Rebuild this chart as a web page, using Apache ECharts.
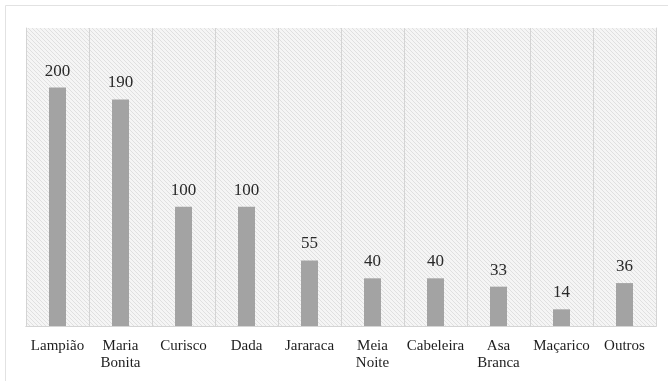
<!DOCTYPE html>
<html>
<head>
<meta charset="utf-8">
<script src="https://cdn.jsdelivr.net/npm/echarts@6/dist/echarts.min.js"></script>
<style>
  html, body { margin: 0; padding: 0; background: #fff; }
  #chart { width: 668px; height: 381px; }
</style>
</head>
<body>
<div id="chart"></div>
<script>
// dados
var categorias = ['Lampião', 'Maria\nBonita', 'Curisco', 'Dada', 'Jararaca', 'Meia\nNoite', 'Cabeleira', 'Asa\nBranca', 'Maçarico', 'Outros'];
var valores = [200, 190, 100, 100, 55, 40, 40, 33, 14, 36];

// fundo hachurado da área do gráfico
function hachura() {
  var c = document.createElement('canvas');
  c.width = 4; c.height = 4;
  var ctx = c.getContext('2d');
  ctx.fillStyle = '#f5f5f5';
  ctx.fillRect(0, 0, 4, 4);
  ctx.strokeStyle = '#e0e0e0';
  ctx.lineWidth = 1;
  ctx.beginPath();
  ctx.moveTo(0, 0); ctx.lineTo(4, 4);
  ctx.moveTo(-2, 2); ctx.lineTo(2, 6);
  ctx.moveTo(2, -2); ctx.lineTo(6, 2);
  ctx.stroke();
  return c;
}

var myChart = echarts.init(document.getElementById('chart'));
var fonte = '"Liberation Serif", "DejaVu Serif", serif';
var corGrade = '#d4d4d4';

myChart.setOption({
  backgroundColor: '#fff',
  animation: false,
  graphic: [{
    type: 'rect',
    shape: { x: 5.5, y: 5.5, width: 700, height: 400 },
    style: { fill: 'none', stroke: '#e2e2e2', lineWidth: 1 },
    z: -1
  }],
  grid: { left: 26, right: 12, top: 28, bottom: 55 },
  xAxis: [{
    type: 'category',
    data: categorias,
    axisLine: { show: true, lineStyle: { color: corGrade } },
    axisTick: { show: false },
    axisLabel: {
      color: '#1e1e1e',
      fontFamily: fonte,
      fontSize: 15,
      lineHeight: 17,
      margin: 12,
      interval: 0
    },
    splitLine: { show: true, interval: 0, lineStyle: { color: corGrade, width: 1 } },
    splitArea: {
      show: true,
      interval: 0,
      areaStyle: { color: [{ image: hachura(), repeat: 'repeat' }] }
    }
  }, {
    // moldura superior
    type: 'category',
    position: 'top',
    data: categorias,
    axisLine: { show: true, lineStyle: { color: corGrade } },
    axisTick: { show: false },
    axisLabel: { show: false },
    splitLine: { show: false }
  }],
  yAxis: [{
    type: 'value',
    min: 0,
    max: 250,
    interval: 50,
    axisLabel: { show: false },
    axisLine: { show: true, lineStyle: { color: corGrade } },
    axisTick: { show: false },
    splitLine: { show: true, lineStyle: { color: corGrade, width: 1 } }
  }, {
    // moldura direita
    type: 'value',
    position: 'right',
    min: 0,
    max: 250,
    interval: 50,
    axisLabel: { show: false },
    axisLine: { show: true, lineStyle: { color: corGrade } },
    axisTick: { show: false },
    splitLine: { show: false }
  }],
  series: [{
    type: 'bar',
    data: valores,
    barWidth: 17,
    itemStyle: { color: '#a3a3a3' },
    label: {
      show: true,
      position: 'top',
      distance: 8,
      color: '#2a2a2a',
      fontFamily: fonte,
      fontSize: 17
    }
  }]
});
</script>
</body>
</html>
